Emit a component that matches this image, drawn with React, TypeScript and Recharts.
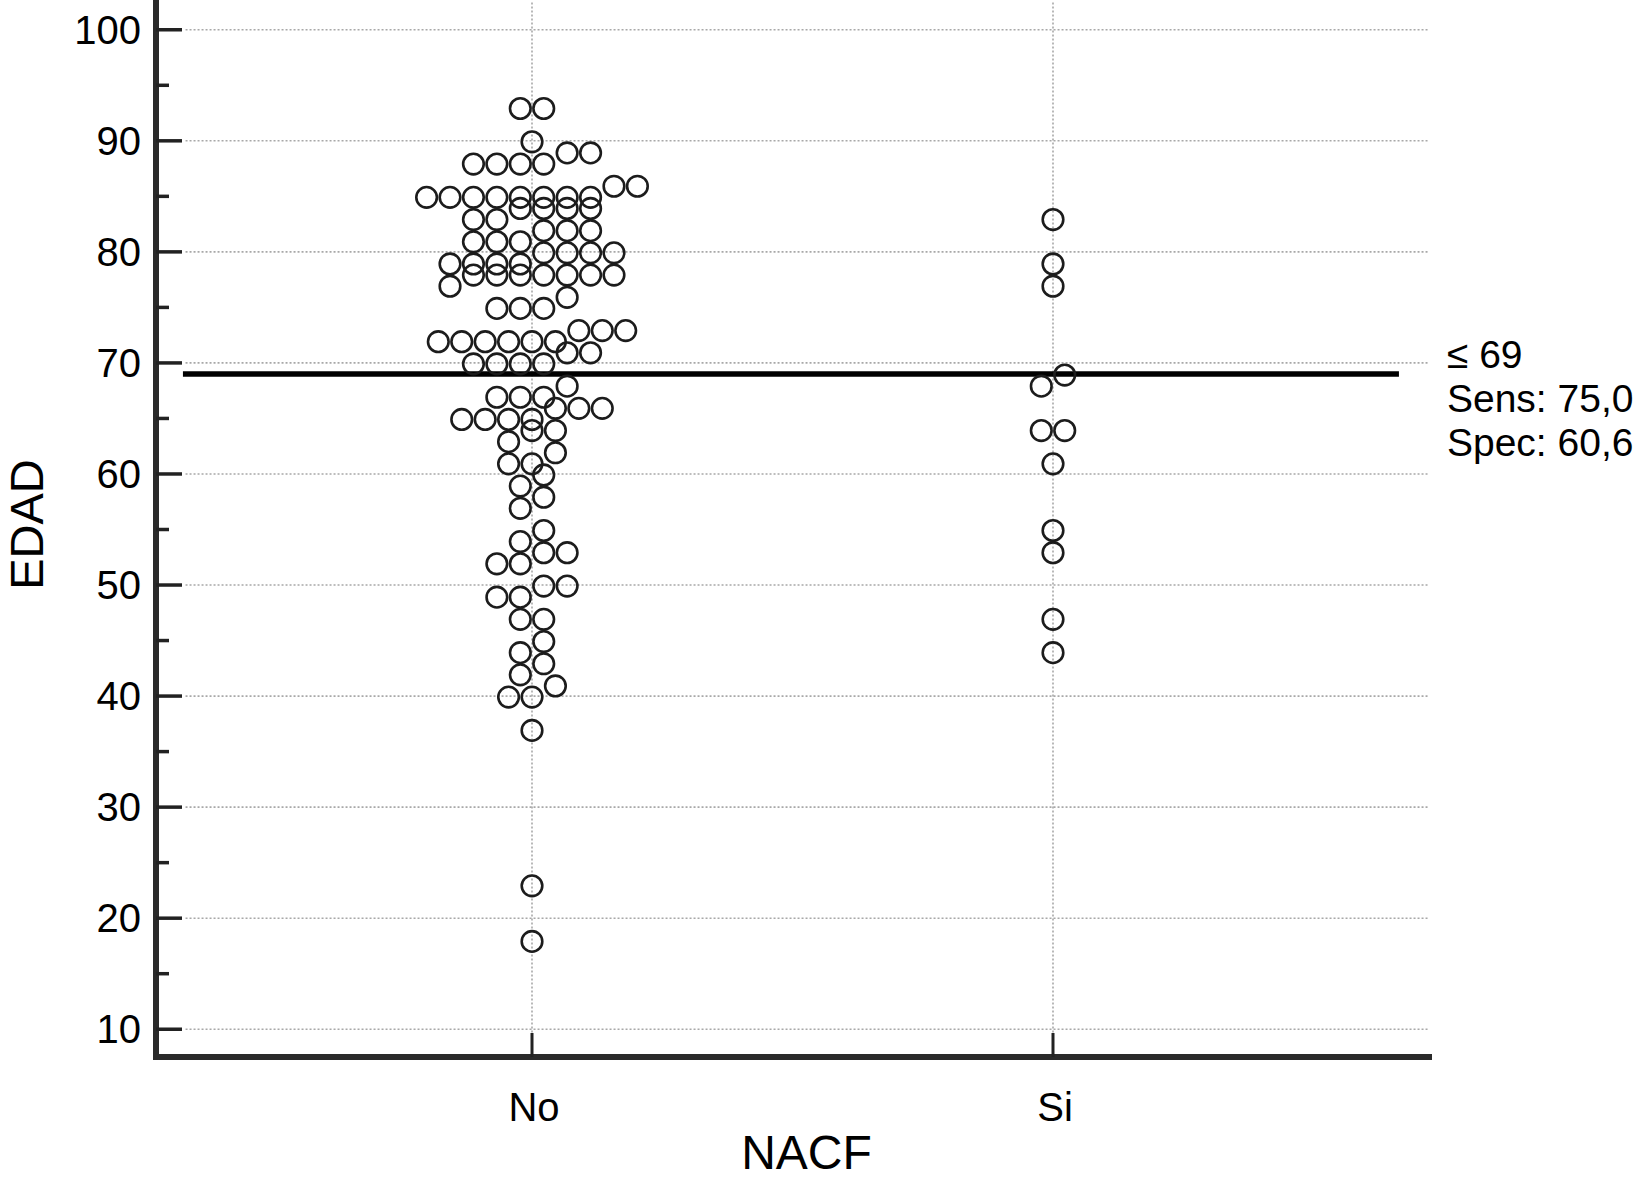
import React from "react";
import { ScatterChart, Scatter, XAxis, YAxis, ReferenceLine } from "recharts";

// Categories on the x axis
const categories = ["No", "Si"];

// EDAD values of the "No" group, with the column slot (half-steps) each dot occupies in the dot plot
const noAges = [
  93, 93,
  90,
  89, 89,
  88, 88, 88, 88,
  86, 86,
  85, 85, 85, 85, 85, 85, 85, 85,
  84, 84, 84, 84,
  83, 83,
  82, 82, 82,
  81, 81, 81,
  80, 80, 80, 80,
  79, 79, 79, 79,
  78, 78, 78, 78, 78, 78, 78,
  77,
  76,
  75, 75, 75,
  73, 73, 73,
  72, 72, 72, 72, 72, 72,
  71, 71,
  70, 70, 70, 70,
  68,
  67, 67, 67,
  66, 66, 66,
  65, 65, 65, 65,
  64, 64,
  63,
  62,
  61, 61,
  60,
  59,
  58,
  57,
  55,
  54,
  53, 53,
  52, 52,
  50, 50,
  49, 49,
  47, 47,
  45,
  44,
  43,
  42,
  41,
  40, 40,
  37,
  23,
  18,
];
const noSlots = [
  -1, 1,
  0,
  3, 5,
  -5, -3, -1, 1,
  7, 9,
  -9, -7, -5, -3, -1, 1, 3, 5,
  -1, 1, 3, 5,
  -5, -3,
  1, 3, 5,
  -5, -3, -1,
  1, 3, 5, 7,
  -7, -5, -3, -1,
  -5, -3, -1, 1, 3, 5, 7,
  -7,
  3,
  -3, -1, 1,
  4, 6, 8,
  -8, -6, -4, -2, 0, 2,
  3, 5,
  -5, -3, -1, 1,
  3,
  -3, -1, 1,
  2, 4, 6,
  -6, -4, -2, 0,
  0, 2,
  -2,
  2,
  -2, 0,
  1,
  -1,
  1,
  -1,
  1,
  -1,
  1, 3,
  -3, -1,
  1, 3,
  -3, -1,
  -1, 1,
  1,
  -1,
  1,
  -1,
  2,
  -2, 0,
  0,
  0,
  0,
];

// EDAD values of the "Si" group
const siAges = [83, 79, 77, 69, 68, 64, 64, 61, 55, 53, 47, 44];
const siSlots = [0, 0, 0, 1, -1, -1, 1, 0, 0, 0, 0, 0];

// Axis ticks
const yMajorTicks = [10, 20, 30, 40, 50, 60, 70, 80, 90, 100];
const yAllTicks = [10, 15, 20, 25, 30, 35, 40, 45, 50, 55, 60, 65, 70, 75, 80, 85, 90, 95, 100];
const xTicks = [1, 2];

// Cut-off and its statistics
const cutoff = 69;
const cutoffLabels = ["\u2264 69", "Sens: 75,0", "Spec: 60,6"];

const HALF_STEP = 0.02248;
const FONT = "'Liberation Sans', Arial, Helvetica, sans-serif";
const X_DOMAIN: [number, number] = [0.2783, 2.7217];
const Y_DOMAIN: [number, number] = [7.5, 102.5];

const noData = noAges.map((a, i) => ({ x: 1 + noSlots[i] * HALF_STEP, y: a }));
const siData = siAges.map((a, i) => ({ x: 2 + siSlots[i] * HALF_STEP, y: a }));

const Dot = (props: any) => {
  const { cx, cy } = props;
  if (cx == null || cy == null) return null;
  return <circle cx={cx} cy={cy + 1} r={10.3} fill="none" stroke="#1c1c1c" strokeWidth={2.6} />;
};

const YTick = (props: any) => {
  const { x, y, payload } = props;
  const major = yMajorTicks.includes(payload.value);
  return (
    <g>
      <line x1={x} x2={x + (major ? 26 : 13)} y1={y} y2={y} stroke="#222" strokeWidth={3.5} />
      {major && (
        <text x={x - 15} y={y + 14} textAnchor="end" fontSize={40} fontFamily={FONT} fill="#000">
          {payload.value}
        </text>
      )}
    </g>
  );
};

const XTick = (props: any) => {
  const { x, y, payload } = props;
  return (
    <g>
      <line x1={x} x2={x} y1={y} y2={y - 24} stroke="#222" strokeWidth={3} />
      <text x={x + 2} y={y + 64} textAnchor="middle" fontSize={40} fontFamily={FONT} fill="#000">
        {categories[payload.value - 1]}
      </text>
    </g>
  );
};

const YTitle = (props: any) => {
  const vb = props.viewBox || { x: 0, y: 2, width: 156, height: 1055 };
  const cx = vb.x + 43;
  const cy = vb.y + vb.height / 2 - 5;
  return (
    <text transform={`translate(${cx}, ${cy}) rotate(-90)`} textAnchor="middle" fontSize={47} fontFamily={FONT} fill="#000">
      EDAD
    </text>
  );
};

const XTitle = (props: any) => {
  const vb = props.viewBox || { x: 156, y: 1057, width: 1273, height: 123 };
  return (
    <text x={vb.x + vb.width / 2 + 14} y={vb.y + 112} textAnchor="middle" fontSize={48} fontFamily={FONT} fill="#000">
      NACF
    </text>
  );
};

const CutoffLabel = (props: any) => {
  const vb = props.viewBox || { x: 183, y: 374, width: 1216, height: 0 };
  const x = vb.x + vb.width + 48;
  const y = vb.y;
  return (
    <g>
      {cutoffLabels.map((t, i) => (
        <text key={t} x={x} y={y - 6 + i * 44} fontSize={39} fontFamily={FONT} fill="#000">
          {t}
        </text>
      ))}
    </g>
  );
};

const gridStyle = { stroke: "#a8a8a8", strokeWidth: 1.6, strokeDasharray: "2 2" };

export default function App() {
  return (
    <div style={{ position: "absolute", left: 0, top: 0, background: "#fff" }}>
      <ScatterChart width={1642} height={1180} margin={{ top: 2, right: 213, bottom: 0, left: 0 }}>
        <XAxis
          type="number"
          dataKey="x"
          domain={X_DOMAIN}
          allowDataOverflow
          ticks={xTicks}
          interval={0}
          tickSize={0}
          tickMargin={0}
          tick={<XTick />}
          tickLine={false}
          height={123}
          axisLine={{ stroke: "#2a2a2a", strokeWidth: 6, strokeLinecap: "square" }}
          label={<XTitle />}
        />
        <YAxis
          type="number"
          dataKey="y"
          domain={Y_DOMAIN}
          allowDataOverflow
          ticks={yAllTicks}
          interval={0}
          tickSize={0}
          tickMargin={0}
          tick={<YTick />}
          tickLine={false}
          width={156}
          axisLine={{ stroke: "#2a2a2a", strokeWidth: 6, strokeLinecap: "square" }}
          label={<YTitle />}
        />
        {yMajorTicks.map((v) => (
          <ReferenceLine
            key={`h${v}`}
            segment={[{ x: 0.335, y: v }, { x: X_DOMAIN[1], y: v }]}
            {...gridStyle}
          />
        ))}
        {xTicks.map((v) => (
          <ReferenceLine
            key={`v${v}`}
            segment={[{ x: v, y: 9.7 }, { x: v, y: Y_DOMAIN[1] }]}
            {...gridStyle}
          />
        ))}
        <Scatter data={noData} shape={<Dot />} isAnimationActive={false} />
        <Scatter data={siData} shape={<Dot />} isAnimationActive={false} />
        <ReferenceLine
          segment={[{ x: 0.33, y: cutoff }, { x: 2.664, y: cutoff }]}
          stroke="#000"
          strokeWidth={5.5}
          label={<CutoffLabel />}
        />
      </ScatterChart>
    </div>
  );
}
